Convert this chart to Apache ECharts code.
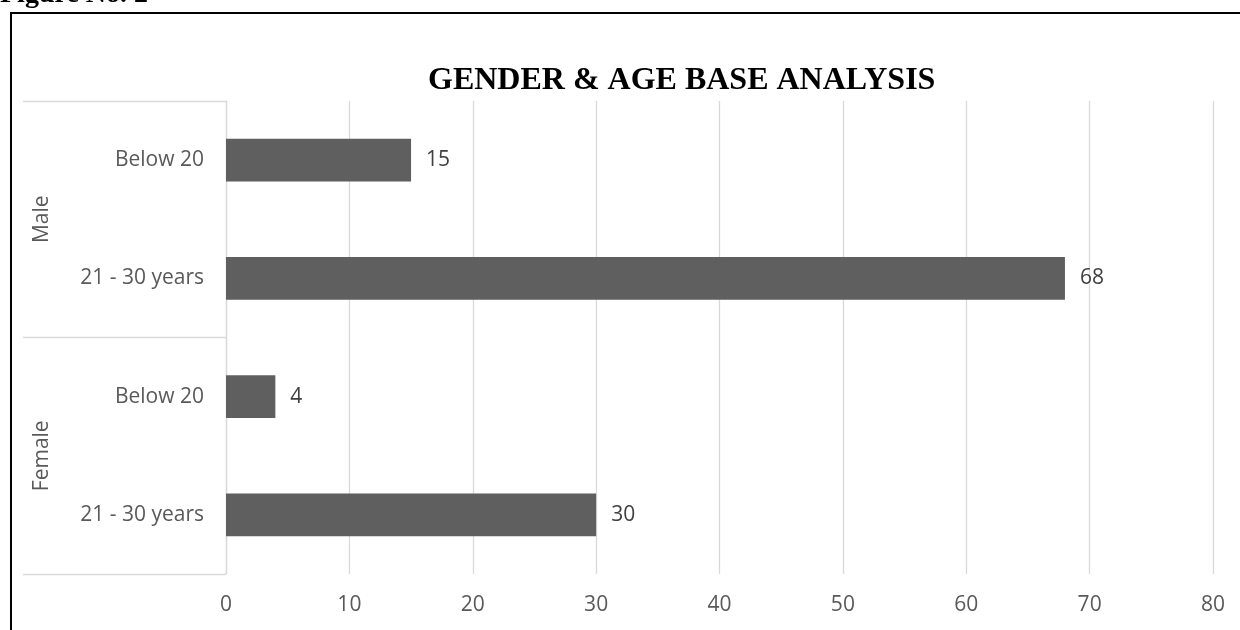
<!DOCTYPE html>
<html><head><meta charset="utf-8">
<script src="https://cdn.jsdelivr.net/npm/echarts@6/dist/echarts.min.js"></script>
<style>html,body{margin:0;padding:0;background:#fff}#c{width:1240px;height:630px}</style>
</head><body><div id="c"></div>
<script>
const categories = ['21 - 30 years', 'Below 20', '21 - 30 years', 'Below 20'];
const groups = ['Female', 'Male'];
const values = [30, 4, 68, 15];
const xTicks = [0, 10, 20, 30, 40, 50, 60, 70, 80];
const titleText = 'GENDER & AGE BASE ANALYSIS';
const figureText = 'Figure No. 2';

const chart = echarts.init(document.getElementById('c'));
chart.setOption({
  animation: false,
  backgroundColor: '#fff',
  title: {
    text: titleText, left: 423, top: 60,
    textStyle: {fontFamily: 'Liberation Serif', fontWeight: 'bold', fontSize: 32, color: '#000'}
  },
  graphic: [
    {type: 'rect', shape: {x: 11, y: 13, width: 1300, height: 700}, style: {fill: 'none', stroke: '#000', lineWidth: 2}},
    {type: 'text', x: 0, y: 9, style: {text: figureText, font: 'bold 28px "Liberation Serif"', fill: '#000', verticalAlign: 'bottom'}}
  ],
  grid: {left: 226, right: 27, top: 101, bottom: 56},
  xAxis: {
    type: 'value', min: xTicks[0], max: xTicks[xTicks.length - 1], interval: 10,
    axisLine: {show: false}, axisTick: {show: false},
    splitLine: {lineStyle: {color: '#d9d9d9', width: 1.3}},
    axisLabel: {color: '#595959', fontSize: 21, fontFamily: 'Open Sans', margin: 21}
  },
  yAxis: [
    {
      type: 'category', data: categories,
      axisLine: {lineStyle: {color: '#d9d9d9', width: 1.3}}, axisTick: {show: false},
      axisLabel: {color: '#595959', fontSize: 21, fontFamily: 'Open Sans', margin: 22}
    },
    {
      type: 'category', data: groups, position: 'left',
      axisLine: {show: false},
      axisTick: {show: true, length: 203, lineStyle: {color: '#d9d9d9', width: 1.3}},
      axisLabel: {color: '#595959', fontSize: 21, fontFamily: 'Open Sans', rotate: 90, margin: 173}
    }
  ],
  series: [{
    type: 'bar', data: values, yAxisIndex: 0, barWidth: '36%',
    itemStyle: {color: '#5f5f5f'},
    label: {show: true, position: 'right', distance: 15, color: '#404040', fontSize: 21, fontFamily: 'Open Sans'}
  }]
});
</script></body></html>
